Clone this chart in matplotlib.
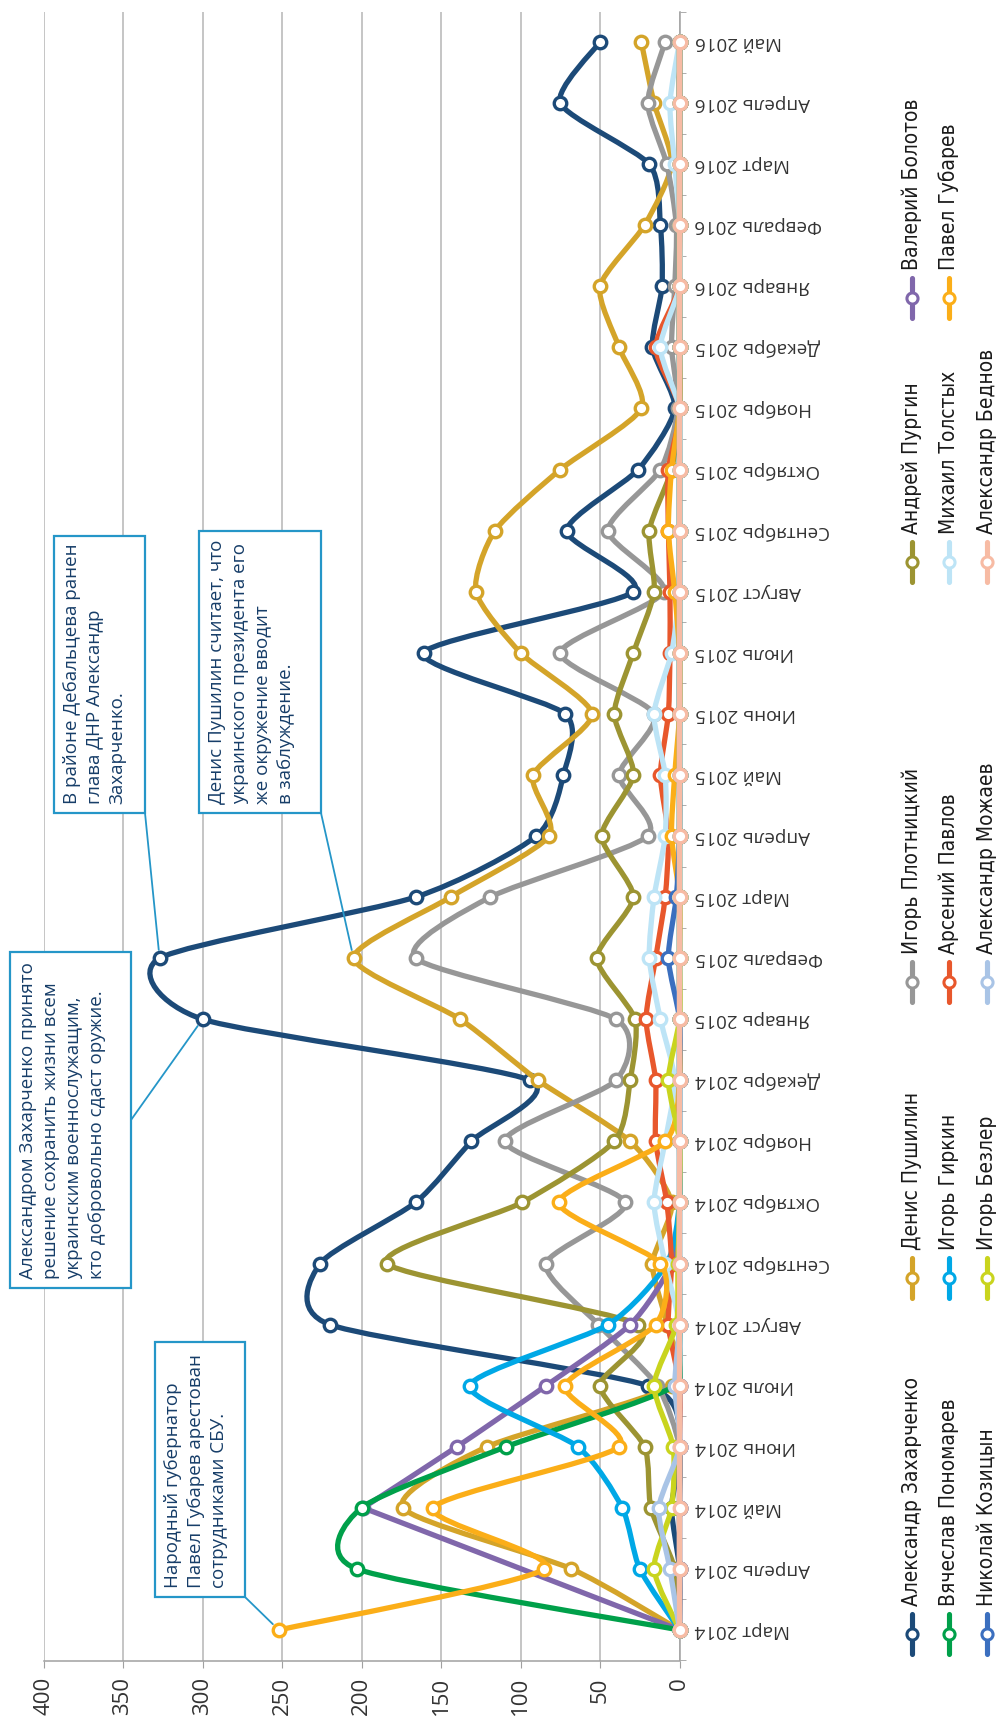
import matplotlib
matplotlib.use('Agg')
import matplotlib.pyplot as plt
import numpy as np
from matplotlib.path import Path
from matplotlib.patches import PathPatch, Rectangle
from matplotlib.lines import Line2D
from matplotlib import font_manager

plt.rcParams['font.family'] = ['Open Sans', 'DejaVu Sans']

# Данные (упоминания по месяцам)
months = ['Март 2014', 'Апрель 2014', 'Май 2014', 'Июнь 2014', 'Июль 2014',
          'Август 2014', 'Сентябрь 2014', 'Октябрь 2014', 'Ноябрь 2014',
          'Декабрь 2014', 'Январь 2015', 'Февраль 2015', 'Март 2015',
          'Апрель 2015', 'Май 2015', 'Июнь 2015', 'Июль 2015', 'Август 2015',
          'Сентябрь 2015', 'Октябрь 2015', 'Ноябрь 2015', 'Декабрь 2015',
          'Январь 2016', 'Февраль 2016', 'Март 2016', 'Апрель 2016', 'Май 2016']

value_ticks = [0, 50, 100, 150, 200, 250, 300, 350, 400]

zakharchenko = [0, 0, 5, 0, 20, 220, 226, 166, 131, 94, 300, 327, 166, 90, 73, 72, 161, 29, 71, 26, 3, 17, 11, 12, 19, 75, 50]
pushilin = [0, 68, 174, 121, 5, 8, 17, 5, 31, 89, 138, 205, 144, 82, 92, 55, 100, 128, 116, 75, 24, 38, 50, 22, 5, 16, 24]
plotnitsky = [0, 0, 0, 0, 14, 51, 84, 34, 110, 40, 40, 166, 119, 20, 38, 16, 75, 10, 45, 12, 1, 5, 3, 2, 8, 20, 9]
purgin = [0, 3, 18, 22, 50, 26, 184, 99, 41, 31, 28, 52, 29, 49, 29, 41, 29, 16, 19, 5, 0, 0, 0, 0, 0, 0, 0]
bolotov = [0, np.nan, 199, 140, 84, 31, 5, 0, 0, 0, 0, 0, 0, 0, 0, 0, 0, 0, 0, 0, 0, 0, 0, 0, 0, 0, 0]
ponomarev = [0, 203, 200, 109, 3, 0, 0, 0, 0, 0, 0, 0, 0, 0, 0, 0, 0, 0, 0, 0, 0, 0, 0, 0, 0, 0, 0]
girkin = [0, 25, 36, 64, 132, 45, 8, 0, 0, 0, 0, 0, 0, 0, 0, 0, 0, 0, 0, 0, 0, 0, 0, 0, 0, 0, 0]
pavlov = [0, 0, 0, 0, 0, 7, 5, 8, 15, 15, 21, 15, 9, 7, 12, 7, 6, 6, 7, 7, 0, 15, 0, 0, 0, 0, 0]
tolstykh = [0, 0, 0, 0, 0, 0, 9, 16, 9, 3, 12, 19, 16, 9, 9, 16, 5, 0, 0, 0, 0, 12, 0, 0, 3, 6, 0]
gubarev = [252, 85, 155, 38, 72, 15, 12, 76, 9, 0, 0, 0, 0, 5, 3, 0, 0, 3, 7, 5, 0, 0, 0, 0, 0, 0, 0]
kozitsyn = [0, 0, 0, 0, 0, 0, 0, 0, 0, 0, 0, 7, 2, 0, 0, 0, 0, 0, 0, 0, 0, 0, 0, 0, 0, 0, 0]
bezler = [0, 16, 5, 4, 16, 2, 1, 0, 0, 7, 0, 0, 0, 0, 0, 0, 0, 0, 0, 0, 0, 0, 0, 0, 0, 0, 0]
mozhaev = [0, 6, 13, 0, 3, 0, 0, 0, 0, 0, 0, 0, 0, 0, 0, 0, 0, 0, 0, 0, 0, 0, 0, 0, 0, 0, 0]
bednov = [0, 0, 0, 0, 0, 0, 0, 0, 0, 0, 0, 0, 0, 0, 0, 0, 0, 0, 0, 0, 0, 0, 0, 0, 0, 0, 0]

names = ['Александр Захарченко', 'Денис Пушилин', 'Игорь Плотницкий', 'Андрей Пургин', 'Валерий Болотов',
         'Вячеслав Пономарев', 'Игорь Гиркин', 'Арсений Павлов', 'Михаил Толстых', 'Павел Губарев',
         'Николай Козицын', 'Игорь Безлер', 'Александр Можаев', 'Александр Беднов']
values = [zakharchenko, pushilin, plotnitsky, purgin, bolotov,
          ponomarev, girkin, pavlov, tolstykh, gubarev,
          kozitsyn, bezler, mozhaev, bednov]
colors = ['#1c4a78', '#d4a429', '#979797', '#9c9432', '#8067ab',
          '#00a04a', '#00a8e6', '#e8572c', '#bde4f6', '#fbae18',
          '#3b6fbf', '#c9d41e', '#a9c4e6', '#f7bba4']

notes = ['Народный губернатор\nПавел Губарев арестован\nсотрудниками СБУ.',
         'Александром Захарченко принято\nрешение сохранить жизни всем\nукраинским военнослужащим,\nкто добровольно сдаст оружие.',
         'В районе Дебальцева ранен\nглава ДНР Александр\nЗахарченко.',
         'Денис Пушилин считает, что\nукраинского президента его\nже окружение вводит\nв заблуждение.']

W, H = 1000, 1725
fig = plt.figure(figsize=(W / 100, H / 100), dpi=100)


def fx(px):
    return px / W


def fy(py):
    return 1 - py / H


def smooth_path(xs, ys, t=0.115):
    # гладкая линия через точки (как "сглаженная линия" в Excel);
    # пропуски соединяются прямым отрезком
    verts, codes = [], []
    runs, cur = [], []
    for x, y in zip(xs, ys):
        if np.isnan(x):
            if cur:
                runs.append(cur)
            cur = []
        else:
            cur.append((x, y))
    if cur:
        runs.append(cur)
    for j, run in enumerate(runs):
        pts = np.array(run, dtype=float)
        n = len(pts)
        verts.append(pts[0])
        codes.append(Path.MOVETO if j == 0 else Path.LINETO)
        for i in range(n - 1):
            p0 = pts[max(i - 1, 0)]
            p1 = pts[i]
            p2 = pts[i + 1]
            p3 = pts[min(i + 2, n - 1)]
            verts += [p1 + (p2 - p0) * t, p2 - (p3 - p1) * t, p2]
            codes += [Path.CURVE4] * 3
    return Path(verts, codes)


ax = fig.add_axes([fx(43.5), fy(1660.5), fx(679.5) - fx(43.5), fy(11.5) - fy(1660.5)])
ax.set_xlim(400, 0)
ax.set_ylim(-0.5, len(months) - 0.5)

idx = np.arange(len(months))
clip_rect = Rectangle((-2.5, -1.5), 405, len(months) + 2, transform=ax.transData)
for k, (vals, col) in enumerate(zip(values, colors)):
    v = np.array(vals, dtype=float)
    ok = ~np.isnan(v)
    z = 3 + k * 0.1
    patch = PathPatch(smooth_path(v, idx), fill=False, edgecolor=col, lw=3.8,
                      capstyle='round', joinstyle='round', zorder=z)
    ax.add_patch(patch)
    patch.set_clip_path(clip_rect)
    ax.plot(v[ok], idx[ok], 'o', ms=9, mfc='white', mec=col, mew=2.4, zorder=z + 0.05, clip_on=False)

# оси
ax.set_xticks(value_ticks)
ax.set_xticklabels([str(t) for t in value_ticks], rotation=90, fontsize=16, color='#333333')
ax.grid(axis='x', color='#b5b5b5', lw=1.1)
ax.set_axisbelow(True)
ax.tick_params(axis='x', length=5, color='#a0a0a0', pad=7)

ax.yaxis.tick_right()
ax.set_yticks(idx)
ax.set_yticklabels(months, rotation=180, fontsize=13.5, color='#333333')
for lbl in ax.get_yticklabels():
    lbl.set_va('center')
ax.set_yticks(np.arange(-0.5, len(months)), minor=True)
ax.tick_params(axis='y', which='major', length=0, pad=11)
ax.tick_params(axis='y', which='minor', length=4, color='#a0a0a0', right=True, left=False)

for s in ['left', 'top']:
    ax.spines[s].set_visible(False)
for s in ['right', 'bottom']:
    ax.spines[s].set_color('#a0a0a0')
    ax.spines[s].set_linewidth(1.1)

# выноски
box_edge = '#2596c8'
text_col = '#163d68'
boxes = [(155, 1342, 245, 1597), (10, 952, 131, 1288), (54, 536, 145, 813), (199, 531, 321, 813)]
anchors = [(245, 1597), (131, 1120), (145, 813), (321, 813)]
targets = [(gubarev[0], 0), (zakharchenko[10], 10), (zakharchenko[11], 11), (pushilin[11], 11)]
for (l, t, r, b), txt, (axp, ayp), tgt in zip(boxes, notes, anchors, targets):
    fig.add_artist(Rectangle((fx(l), fy(b)), fx(r) - fx(l), fy(t) - fy(b), transform=fig.transFigure,
                             fill=True, facecolor='white', edgecolor=box_edge, lw=1.6, zorder=10))
    fig.text(fx(l + 9), fy(b - 9), txt, rotation=90, ha='left', va='bottom', fontsize=13.5,
             color=text_col, linespacing=1.35, zorder=11)
    ax.annotate('', xy=tgt, xycoords='data', xytext=(fx(axp), fy(ayp)), textcoords='figure fraction',
                arrowprops=dict(arrowstyle='-', color=box_edge, lw=1.3, shrinkA=0, shrinkB=6), zorder=9)

# легенда
fonts = font_manager.fontManager.ttflist
narrow = {f.name for f in fonts if 'narrow' in f.name.lower() or 'condensed' in f.name.lower()}
dejavu_cond = any(f.name == 'DejaVu Sans' and f.stretch in ('condensed', 'semi-condensed', 600) for f in fonts)
leg_kw = dict(family=['DejaVu Sans'], fontsize=13.5)
if 'Liberation Sans Narrow' in narrow:
    leg_kw = dict(family=['Liberation Sans Narrow', 'DejaVu Sans'], fontsize=17)
elif 'DejaVu Sans Condensed' in narrow:
    leg_kw = dict(family=['DejaVu Sans Condensed', 'DejaVu Sans'], fontsize=15)
elif dejavu_cond:
    leg_kw = dict(family=['DejaVu Sans'], fontstretch='condensed', fontsize=15)
leg_x = [912, 949, 987]
leg_y = [1634, 1278, 982, 562, 298]
for k, (name, col) in enumerate(zip(names, colors)):
    r, c = divmod(k, 5)
    x, y = leg_x[r], leg_y[c]
    fig.add_artist(Line2D([fx(x), fx(x)], [fy(y + 20), fy(y - 20)], transform=fig.transFigure,
                          color=col, lw=3.7, solid_capstyle='round'))
    fig.add_artist(Line2D([fx(x)], [fy(y)], transform=fig.transFigure, marker='o', ms=8,
                          mfc='white', mec=col, mew=2.2))
    fig.text(fx(x), fy(y - 28), name, rotation=90, ha='center', va='bottom',
             color='#1a1a1a', **leg_kw)

fig.savefig('out.png', dpi=100)
